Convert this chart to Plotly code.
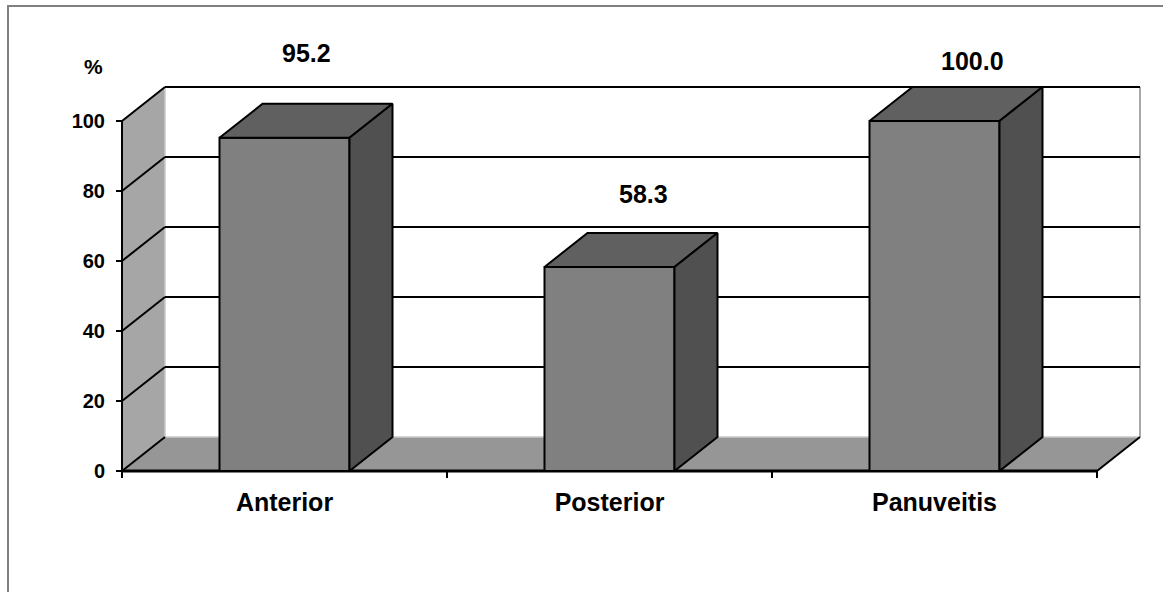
import plotly.graph_objects as go

# ---- data ----
categories = ["Anterior", "Posterior", "Panuveitis"]
values = [95.2, 58.3, 100.0]
y_ticks = [0, 20, 40, 60, 80, 100]

# ---- geometry of the pseudo-3D box ----
W, H = 1163, 592
PX_PER_CAT = 325.0          # px per category on x
PX_PER_UNIT = 3.5           # px per percent on y
DEPTH_PX = (43, 34)         # depth offset of the back wall, px
DX = DEPTH_PX[0] / PX_PER_CAT
DY = DEPTH_PX[1] / PX_PER_UNIT
BAR_HALF = 0.2
X0, X1 = -0.5, len(categories) - 0.5
X_RANGE = [X0 - 6 / PX_PER_CAT, X0 + (1146 - 122) / PX_PER_CAT]
Y_RANGE = [-2, 130]
M_L, M_T = 116, 16
M_R = W - 1146
M_B = H - 478

# label nudges (px) for the value labels
label_shift = [(0, 68), (12, 56), (16, 43)]

FONT = "Liberation Sans, Arial, sans-serif"
FRONT, TOP, SIDE = "#808080", "#606060", "#505050"
WALL, FLOOR = "#a6a6a6", "#969696"

shapes = []


def line(xa, ya, xb, yb, color="black", width=2, layer="below"):
    shapes.append(dict(type="line", xref="x", yref="y", x0=xa, y0=ya, x1=xb, y1=yb,
                       line=dict(color=color, width=width), layer=layer))


def poly(pts, fill, layer="below"):
    d = "M " + " L ".join(f"{x},{y}" for x, y in pts) + " Z"
    shapes.append(dict(type="path", xref="x", yref="y", path=d, fillcolor=fill,
                       line=dict(width=0), layer=layer))


top = y_ticks[-1]
# side wall and floor
poly([(X0, 0), (X0, top), (X0 + DX, top + DY), (X0 + DX, DY)], WALL)
poly([(X0, 0), (X1, 0), (X1 + DX, DY), (X0 + DX, DY)], FLOOR)
# light edges of the back wall and floor
line(X0 + DX, DY, X0 + DX, top + DY, color="#c8c8c8", width=1.5)
line(X1 + DX, DY, X1 + DX, top + DY, color="#a8a8a8", width=2)
line(X0 + DX, DY, X1 + DX, DY, color="#c8c8c8", width=1.5)
# gridlines on the side and back walls
for t in y_ticks:
    line(X0, t, X0 + DX, t + DY)
    if t > 0:
        line(X0 + DX, t + DY, X1 + DX, t + DY)
# front value axis and floor front/right edges
line(X0, 0, X0, top, width=2)
line(X0, 0, X1, 0, width=3)
line(X1, 0, X1 + DX, DY, width=2)

# outer frame (paper coordinates)
plot_w = W - M_L - M_R
plot_h = H - M_T - M_B


def px_to_paper(px, py):
    return (px - M_L) / plot_w, (H - M_B - py) / plot_h


fx0, fy0 = px_to_paper(8, 600)
fx1, fy1 = px_to_paper(8, 6)
fx2, _ = px_to_paper(1170, 6)
shapes.append(dict(type="path", xref="paper", yref="paper",
                   path=f"M {fx0},{fy0} L {fx1},{fy1} L {fx2},{fy1}",
                   line=dict(color="#808080", width=2)))

fig = go.Figure()

# front faces of the bars
fig.add_trace(go.Bar(
    x=list(range(len(categories))), y=values, width=2 * BAR_HALF,
    marker=dict(color=FRONT, line=dict(color="black", width=2)),
    hoverinfo="skip", showlegend=False))

# top and side faces
for i, v in enumerate(values):
    xl, xr = i - BAR_HALF, i + BAR_HALF
    fig.add_trace(go.Scatter(
        x=[xl, xl + DX, xr + DX, xr, xl], y=[v, v + DY, v + DY, v, v],
        mode="lines", fill="toself", fillcolor=TOP,
        line=dict(color="black", width=2), hoverinfo="skip", showlegend=False))
    fig.add_trace(go.Scatter(
        x=[xr, xr, xr + DX, xr + DX, xr], y=[0, v, v + DY, DY, 0],
        mode="lines", fill="toself", fillcolor=SIDE,
        line=dict(color="black", width=2), hoverinfo="skip", showlegend=False))

annotations = []
for i, v in enumerate(values):
    sx, sy = label_shift[i]
    annotations.append(dict(
        x=i + DX / 2, y=v + DY / 2, xref="x", yref="y", text=f"{v:.1f}",
        showarrow=False, xshift=sx, yshift=sy, xanchor="center", yanchor="middle",
        font=dict(family=FONT, size=25, color="black", weight="bold")))

px_, py_ = px_to_paper(93, 66)
annotations.append(dict(x=px_, y=py_, xref="paper", yref="paper", text="%",
                        showarrow=False, xanchor="center", yanchor="middle",
                        font=dict(family=FONT, size=21, color="black", weight="bold")))

fig.update_layout(
    width=W, height=H,
    margin=dict(l=M_L, r=M_R, t=M_T, b=M_B),
    paper_bgcolor="white", plot_bgcolor="white",
    shapes=shapes, annotations=annotations,
    showlegend=False,
    xaxis=dict(
        range=X_RANGE, tickmode="array", tickvals=list(range(len(categories))),
        ticktext=categories, ticks="", showgrid=False, zeroline=False, showline=False,
        ticklabelstandoff=7,
        tickfont=dict(family=FONT, size=25, color="black", weight="bold"),
        minor=dict(tickmode="array", tickvals=[X0 + k for k in range(len(categories) + 1)],
                   ticks="inside", ticklen=7, tickwidth=1.5, tickcolor="black",
                   showgrid=False),
        fixedrange=True),
    yaxis=dict(
        range=Y_RANGE, tickmode="array", tickvals=y_ticks,
        ticktext=[str(t) for t in y_ticks],
        ticks="inside", ticklen=6, tickwidth=1.5, tickcolor="black",
        showgrid=False, zeroline=False, showline=False,
        ticklabelstandoff=10,
        tickfont=dict(family=FONT, size=20, color="black", weight="bold"),
        fixedrange=True),
)

fig.write_html("out.html")
